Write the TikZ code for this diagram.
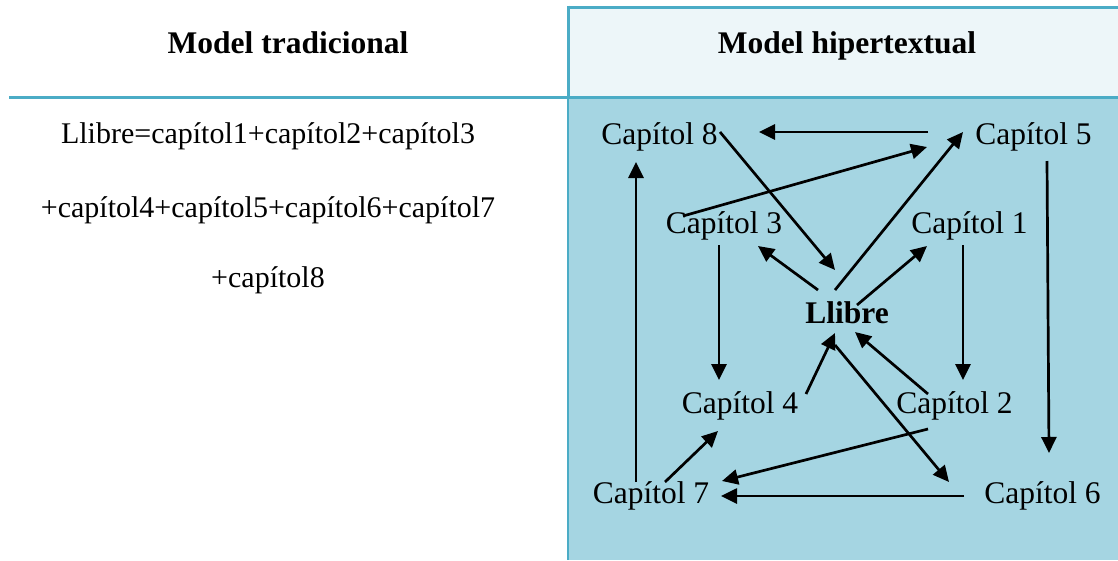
\documentclass[tikz,border=0pt]{standalone}
\usepackage{fontspec}
\setmainfont{Liberation Serif}
\usetikzlibrary{arrows.meta,calc}
\definecolor{bordc}{HTML}{4BACC6}
\definecolor{headfill}{HTML}{EDF6F9}
\definecolor{cellfill}{HTML}{A5D5E2}
\tikzset{
  chap/.style={anchor=base,inner sep=0pt,font=\fontsize{31.5}{36}\selectfont},
  hdr/.style={anchor=base,inner sep=0pt,font=\fontsize{31.5}{36}\selectfont\bfseries},
  txt/.style={anchor=base,inner sep=0pt,font=\fontsize{30}{36}\selectfont},
  link/.style={line width=2.7pt,-{Triangle[length=16pt,width=15pt]}},
  rule/.style={draw=bordc,line width=3pt}
}
\begin{document}
\begin{tikzpicture}[x=1pt,y=-1pt]
\useasboundingbox (0,0) rectangle (1118,560);
% table cells
\fill[headfill] (568,7) rectangle (1118,97);
\fill[cellfill] (568,97) rectangle (1118,560);
\draw[rule] (568,7) -- (1118,7);
\draw[rule] (9,97) -- (1118,97);
\draw[rule] (568,5.5) -- (568,97);
\draw[draw=bordc,line width=2pt] (568,97) -- (568,560);
% headers
\node[hdr] (h1) at (288,53) {Model tradicional};
\node[hdr] (h2) at (847,53) {Model hipertextual};
% left text
\node[txt] (t1) at (268,143) {Llibre=capítol1+capítol2+capítol3};
\node[txt] (t2) at (268,217) {+capítol4+capítol5+capítol6+capítol7};
\node[txt] (t3) at (268,287) {+capítol8};
% chapter nodes
\node[chap] (c8) at (659.5,144) {Capítol 8};
\node[chap] (c5) at (1033.5,144) {Capítol 5};
\node[chap] (c3) at (724,233) {Capítol 3};
\node[chap] (c1) at (969.5,233) {Capítol 1};
\node[hdr]  (L)  at (847,323) {Llibre};
\node[chap] (c4) at (740,413) {Capítol 4};
\node[chap] (c2) at (954.5,413) {Capítol 2};
\node[chap] (c7) at (651,503) {Capítol 7};
\node[chap] (c6) at (1042.5,503) {Capítol 6};
% connectors
\draw[link] ($(c5.base)+(-105.5,-12)$) -- ($(c8.base)+(99.5,-12)$);
\draw[link] ($(c3.base)+(-41,-17)$) -- ($(c5.base)+(-106.5,3)$);
\draw[link] ($(c8.base)+(60.5,-12)$) -- ($(L.base)+(-12,-53)$);
\draw[link] ($(L.base)+(-12,-33)$) -- ($(c5.base)+(-70.5,-12)$);
\draw[link] ($(L.base)+(-29,-33)$) -- ($(c3.base)+(34,13)$);
\draw[link] ($(L.base)+(10,-18)$) -- ($(c1.base)+(-42.5,13)$);
\draw[link] ($(c3.base)+(-5,12)$) -- ($(c4.base)+(-21,-33)$);
\draw[link] ($(c1.base)+(-6.5,12)$) -- ($(c2.base)+(8.5,-33)$);
\draw[link] ($(c5.base)+(13.5,17)$) -- ($(c6.base)+(6.5,-50)$);
\draw[link] ($(c7.base)+(-15,-21)$) -- ($(c8.base)+(-23.5,18)$);
\draw[link] ($(c4.base)+(66,-19)$) -- ($(L.base)+(-12,10)$);
\draw[link] ($(L.base)+(-12,22)$) -- ($(c6.base)+(-93.5,-21)$);
\draw[link] ($(c2.base)+(-26.5,-19)$) -- ($(L.base)+(8,9)$);
\draw[link] ($(c2.base)+(-26.5,16)$) -- ($(c7.base)+(71,-22)$);
\draw[link] ($(c6.base)+(-78.5,-7)$) -- ($(c7.base)+(70,-7)$);
\draw[link] ($(c7.base)+(14,-21)$) -- ($(c4.base)+(-22,18)$);
\end{tikzpicture}
\end{document}
